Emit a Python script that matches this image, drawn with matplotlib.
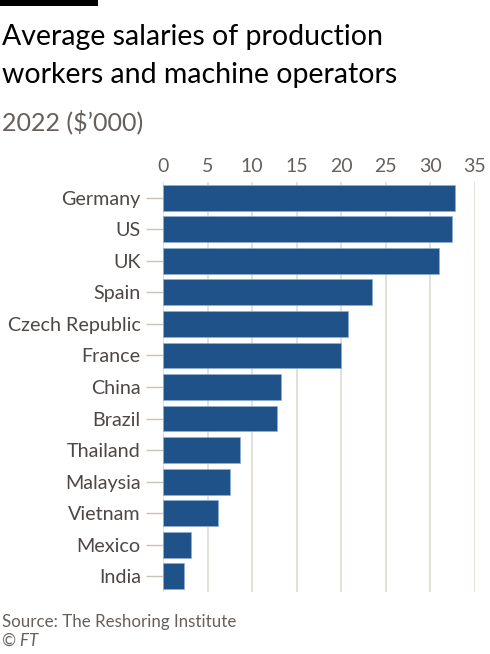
import matplotlib
matplotlib.use("Agg")
import matplotlib.pyplot as plt
from matplotlib.patches import Rectangle

countries = ["Germany", "US", "UK", "Spain", "Czech Republic", "France", "China",
             "Brazil", "Thailand", "Malaysia", "Vietnam", "Mexico", "India"]
salaries = [32.8, 32.4, 31.0, 23.4, 20.7, 20.0, 13.2, 12.8, 8.6, 7.5, 6.2, 3.1, 2.3]
xticks = [0, 5, 10, 15, 20, 25, 30, 35]

title_lines = ["Average salaries of production", "workers and machine operators"]
subtitle = "2022 ($\u2019000)"
source = "Source: The Reshoring Institute"
credit = "\u00a9 FT"

plt.rcParams['font.family'] = ['Lato', 'DejaVu Sans']

W, H = 490, 654
fig = plt.figure(figsize=(W / 100, H / 100), dpi=100)
fig.patch.set_facecolor("white")

def fy(px):
    return 1 - px / H

# top black bar
fig.patches.append(Rectangle((0, fy(6)), 98 / W, 6 / H, transform=fig.transFigure,
                             facecolor="black", edgecolor="none"))

fig.text(2 / W, fy(45), title_lines[0], fontsize=20.5, color="#000000", va="baseline", ha="left")
fig.text(2 / W, fy(83), title_lines[1], fontsize=20.5, color="#000000", va="baseline", ha="left")
fig.text(2 / W, fy(130), subtitle, fontsize=18, color="#66605c", va="baseline", ha="left")
fig.text(2 / W, fy(627), source, fontsize=12.2, color="#66605c", va="baseline", ha="left")
fig.text(2 / W, fy(646), credit, fontsize=12.2, color="#66605c", va="baseline", ha="left",
         style="italic")

left, right = 163 / W, 475 / W
top, bottom = fy(182), fy(592)
ax = fig.add_axes([left, bottom, right - left, top - bottom])
ax.set_facecolor("white")

y = list(range(len(countries)))
ax.barh(y, salaries, height=0.82, color="#1e5288", edgecolor="#8fb0d3", linewidth=0.5,
        zorder=3)
ax.set_xlim(0, 35)
ax.set_ylim(len(countries) - 0.5, -0.5)
ax.set_yticks(y)
ax.set_yticklabels(countries, fontsize=14.2, color="#4d4845")
ax.set_xticks(xticks)
ax.set_xticklabels([str(t) for t in xticks], fontsize=14, color="#66605c")
ax.xaxis.tick_top()
ax.tick_params(axis="x", length=0, pad=5)
ax.tick_params(axis="y", length=12, width=1, color="#ccc1b7", pad=4)
for s in ax.spines.values():
    s.set_visible(False)
ax.grid(axis="x", color="#e0d9d3", linewidth=1.2, zorder=0)
ax.set_axisbelow(True)

fig.savefig("out.png", dpi=100, facecolor="white")
